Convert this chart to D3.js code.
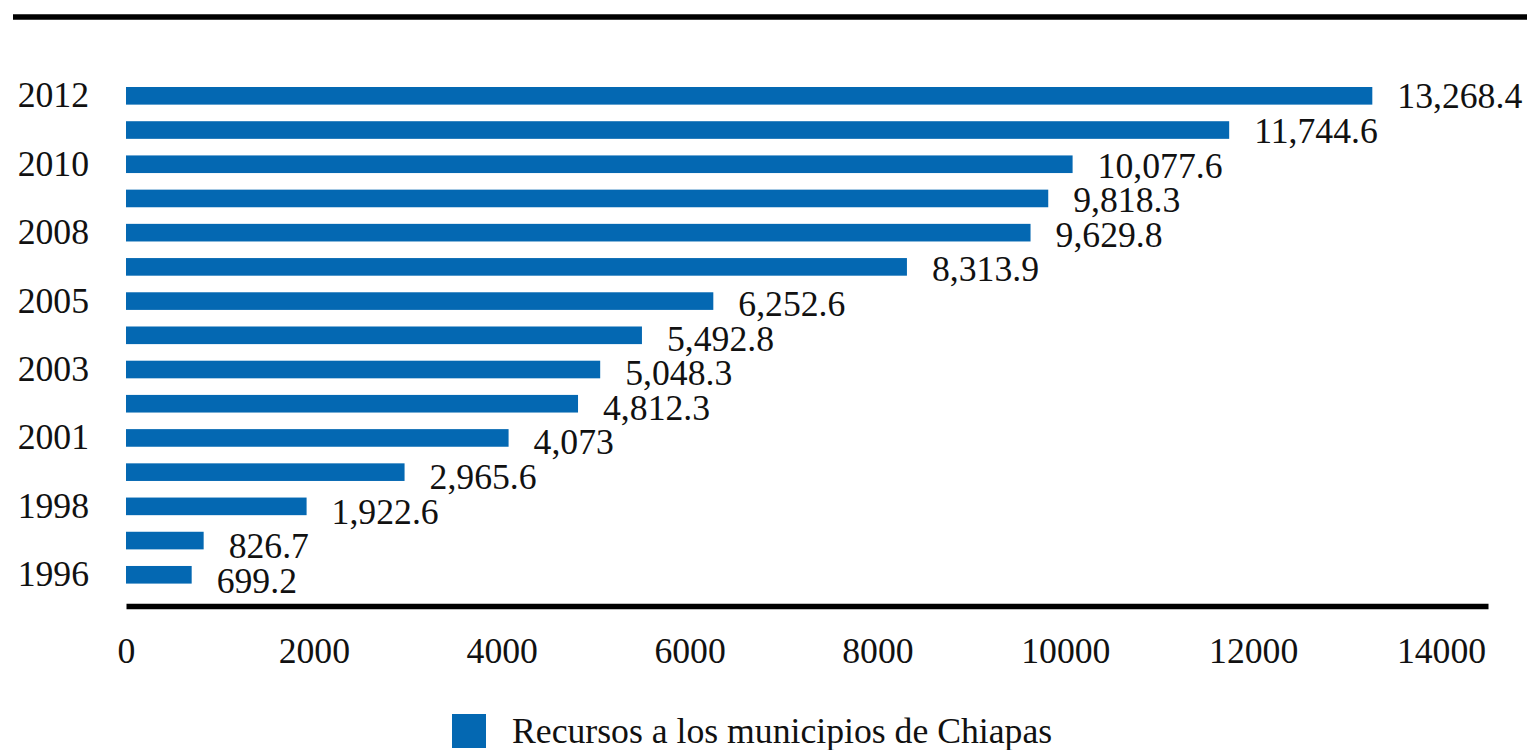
<!DOCTYPE html>
<html>
<head>
<meta charset="utf-8">
<script src="https://cdn.jsdelivr.net/npm/d3@7"></script>
<style>
  html, body { margin: 0; padding: 0; background: #fff; }
  svg { display: block; }
  text { font-family: "Liberation Serif", "Times New Roman", serif; fill: #111; }
</style>
</head>
<body>
<svg id="chart" width="1527" height="750"></svg>
<script>
// Recursos a los municipios de Chiapas (millones de pesos), 1996-2012
const years = ["2012", "2011", "2010", "2009", "2008", "2007", "2005", "2004",
               "2003", "2002", "2001", "2000", "1998", "1997", "1996"];
const values = [13268.4, 11744.6, 10077.6, 9818.3, 9629.8, 8313.9, 6252.6, 5492.8,
                5048.3, 4812.3, 4073, 2965.6, 1922.6, 826.7, 699.2];
const yearTicks = ["2012", "2010", "2008", "2005", "2003", "2001", "1998", "1996"];
const xTicks = [0, 2000, 4000, 6000, 8000, 10000, 12000, 14000];
const seriesName = "Recursos a los municipios de Chiapas";

const barColor = "#0468b2";
const fontSize = 35.7;

const svg = d3.select("#chart");
const data = years.map((y, i) => ({ year: y, value: values[i] }));

const x = d3.scaleLinear().domain([0, 14500]).range([126, 1488]);
const y = d3.scaleBand().domain(years).range([69.9, 600.7])
  .paddingInner(0.485).paddingOuter(0.5);

// value labels sit slightly lower toward the bottom of the stack
const firstC = y(years[0]) + y.bandwidth() / 2;
const lastC = y(years[years.length - 1]) + y.bandwidth() / 2;
const labelY = d3.scaleLinear().domain([firstC, lastC]).range([firstC, lastC + 5.5]);

// top rule
svg.append("line")
  .attr("x1", 13).attr("x2", 1527)
  .attr("y1", 17).attr("y2", 17)
  .attr("stroke", "#000").attr("stroke-width", 5.5);

// bars
svg.append("g").selectAll("rect")
  .data(data)
  .join("rect")
  .attr("x", x(0))
  .attr("y", d => y(d.year))
  .attr("width", d => x(d.value) - x(0))
  .attr("height", y.bandwidth())
  .attr("fill", barColor);

// value labels
const fmt = d3.format(",");
svg.append("g").selectAll("text")
  .data(data)
  .join("text")
  .attr("x", d => x(d.value) + 25)
  .attr("y", d => labelY(y(d.year) + y.bandwidth() / 2))
  .attr("dy", "0.35em")
  .attr("font-size", fontSize)
  .text(d => fmt(d.value));

// category axis (every other year labelled)
const yAxis = svg.append("g")
  .attr("transform", "translate(89,0)")
  .call(d3.axisLeft(y).tickValues(yearTicks).tickSize(0).tickPadding(0));
yAxis.select(".domain").remove();
yAxis.selectAll("text")
  .attr("font-size", fontSize)
  .attr("font-family", "Liberation Serif, Times New Roman, serif")
  .attr("fill", "#111");

// value axis
const xAxis = svg.append("g")
  .attr("transform", "translate(0,606)")
  .call(d3.axisBottom(x).tickValues(xTicks).tickFormat(d3.format("d")).tickSize(0).tickPadding(57));
xAxis.select(".domain")
  .attr("stroke", "#000").attr("stroke-width", 5.5);
xAxis.selectAll("text")
  .attr("font-size", fontSize)
  .attr("font-family", "Liberation Serif, Times New Roman, serif")
  .attr("fill", "#111")
  .attr("dy", "0");

// legend
const legend = svg.append("g").attr("transform", "translate(452,714)");
legend.append("rect")
  .attr("width", 34).attr("height", 34)
  .attr("fill", barColor);
legend.append("text")
  .attr("x", 60).attr("y", 29)
  .attr("font-size", fontSize)
  .text(seriesName);
</script>
</body>
</html>
